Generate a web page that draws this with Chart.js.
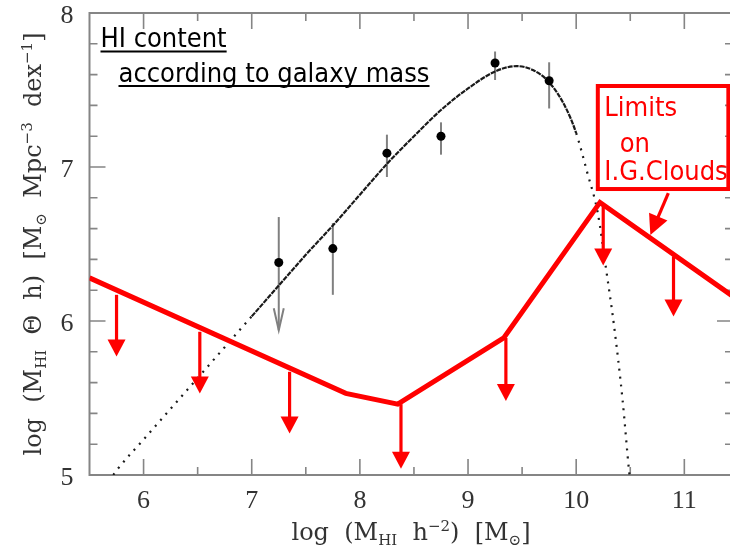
<!DOCTYPE html>
<html><head><meta charset="utf-8">
<script src="https://cdn.jsdelivr.net/npm/chart.js@4"></script>
<style>
html,body{margin:0;padding:0;overflow:hidden;background:#fff;width:730px;height:556px}
#wrap{position:absolute;left:0;top:0;width:733px;height:556px}
</style></head>
<body><div id="wrap"><canvas id="c" width="733" height="556"></canvas></div>
<script>
// ---- data ----
const curveX = [5.72, 5.75, 6.0, 6.25, 6.5, 6.75, 7.0, 7.25, 7.5, 7.75, 8.0, 8.25, 8.5, 8.75, 9.0, 9.25, 9.45, 9.6, 9.75, 9.9, 10.0, 10.1, 10.2, 10.28, 10.35, 10.43, 10.49, 10.52];
const curveY = [5.00, 5.03, 5.23, 5.43, 5.63, 5.83, 6.03, 6.23, 6.43, 6.62, 6.82, 7.02, 7.20, 7.37, 7.51, 7.62, 7.655, 7.63, 7.55, 7.39, 7.22, 6.97, 6.70, 6.32, 5.97, 5.48, 5.02, 4.85];
const pointX = [7.25, 7.75, 8.25, 8.75, 9.25, 9.75];
const pointY = [6.38, 6.47, 7.09, 7.20, 7.675, 7.56];
const errHigh = [6.675, 6.636, 7.21, 7.29, 7.75, 7.68];
const errLow = [5.94, 6.17, 6.935, 7.08, 7.565, 7.38];
const isUpperLimit = [true, false, false, false, false, false];
const limitX = [5.5, 7.87, 8.35, 9.33, 10.22, 11.45];
const limitY = [6.28, 5.53, 5.46, 5.89, 6.77, 6.16];
const arrowX = [5.75, 6.52, 7.35, 8.38, 9.35, 10.25, 10.9];
const arrowTop = [6.17, 5.93, 5.67, 5.46, 5.89, 6.75, 6.42];
const arrowTip = [5.77, 5.53, 5.27, 5.04, 5.48, 6.36, 6.03];
const xTicks = [6, 7, 8, 9, 10, 11];
const yTicks = [5, 6, 7, 8];
const titleLines = ['HI content', 'according to galaxy mass'];
const noteLines = ['Limits', '  on', 'I.G.Clouds'];
// axis title runs: 0 normal, 1 subscript, 2 superscript
const xTitleRuns = [['log  (M',0],['HI',1],['  h',0],['\u22122',2],[')  [M',0],['\u2299',1],[']',0]];
const yTitleRuns = [['log  (M',0],['HI',1],['  \u0398  h)  [M',0],['\u2299',1],['  Mpc',0],['\u22123',2],['  dex',0],['\u22121',2],[']',0]];

const RED = '#ff0000';
const SANS = "'DejaVu Sans Condensed', 'DejaVu Sans', sans-serif";
const SERIF = "'DejaVu Serif', serif";
const TICKFONT = "26px 'Liberation Serif', serif";

function drawRuns(ctx, runs, size) {
  let total = 0;
  const parts = runs.map(([t, k]) => {
    const fs = k === 0 ? size : Math.round(size * 0.62);
    ctx.font = fs + 'px ' + SERIF;
    const w = ctx.measureText(t).width;
    total += w;
    return {t, k, fs, w};
  });
  let cx = -total / 2;
  for (const p of parts) {
    ctx.font = p.fs + 'px ' + SERIF;
    const dy = p.k === 1 ? size * 0.22 : (p.k === 2 ? -size * 0.38 : 0);
    ctx.fillText(p.t, cx, dy);
    cx += p.w;
  }
}

const framePlugin = {
  id: 'frame',
  beforeDatasetsDraw(chart) {
    const {ctx, chartArea: a, scales: {x, y}} = chart;
    ctx.save();
    ctx.strokeStyle = '#858585';
    ctx.lineWidth = 2;
    ctx.strokeRect(a.left, a.top, a.right - a.left, a.bottom - a.top);
    ctx.lineWidth = 1.6;
    ctx.beginPath();
    const t = (px, py, dx, dy) => { ctx.moveTo(px, py); ctx.lineTo(px + dx, py + dy); };
    for (let k = 1; k <= 11; k++) {
      const v = 5.5 + k * 0.5;
      const px = x.getPixelForValue(v);
      const L = (k % 2 === 1) ? 16 : 8;
      t(px, a.bottom, 0, -L); t(px, a.top, 0, L);
    }
    for (let k = 1; k < 15; k++) {
      const v = 5 + k * 0.2;
      const py = y.getPixelForValue(v);
      const L = (k % 5 === 0) ? 16 : 8;
      t(a.left, py, L, 0); t(a.right, py, -L, 0);
    }
    ctx.stroke();
    // tick labels
    ctx.fillStyle = '#333';
    ctx.font = TICKFONT;
    ctx.textBaseline = 'alphabetic';
    ctx.textAlign = 'center';
    xTicks.forEach(v => ctx.fillText(String(v), x.getPixelForValue(v), a.bottom + 33));
    ctx.textAlign = 'right';
    yTicks.forEach(v => ctx.fillText(String(v), a.left - 16, y.getPixelForValue(v) + 10));
    ctx.textAlign = 'left';
    // error bars
    ctx.strokeStyle = '#808080';
    ctx.lineWidth = 2;
    for (let i = 0; i < pointX.length; i++) {
      const px = x.getPixelForValue(pointX[i]);
      const p1 = y.getPixelForValue(errHigh[i]);
      const p2 = y.getPixelForValue(errLow[i]);
      ctx.beginPath(); ctx.moveTo(px, p1); ctx.lineTo(px, p2); ctx.stroke();
      if (isUpperLimit[i]) {
        ctx.beginPath();
        ctx.moveTo(px - 5, p2 - 22); ctx.lineTo(px, p2); ctx.lineTo(px + 5, p2 - 22);
        ctx.stroke();
      }
    }
    ctx.restore();
  },
  afterDatasetsDraw(chart) {
    const {ctx, scales: {x, y}} = chart;
    ctx.save();
    ctx.strokeStyle = RED; ctx.fillStyle = RED;
    for (let i = 0; i < arrowX.length; i++) {
      const px = x.getPixelForValue(arrowX[i]);
      const top = y.getPixelForValue(arrowTop[i]);
      const tip = y.getPixelForValue(arrowTip[i]);
      ctx.lineWidth = 3.2;
      ctx.beginPath(); ctx.moveTo(px, top); ctx.lineTo(px, tip - 15); ctx.stroke();
      ctx.beginPath();
      ctx.moveTo(px - 9, tip - 17); ctx.lineTo(px + 9, tip - 17); ctx.lineTo(px, tip); ctx.closePath();
      ctx.fill();
    }
    ctx.restore();
  },
  afterDraw(chart) {
    const {ctx, chartArea: a, scales: {x, y}} = chart;
    ctx.save();
    ctx.fillStyle = '#000'; ctx.strokeStyle = '#000';
    ctx.font = '27px ' + SANS;
    ctx.textBaseline = 'alphabetic';
    const tl = [[a.left + 11, a.top + 34], [a.left + 29, a.top + 68.5]];
    titleLines.forEach((s, i) => {
      const [tx, ty] = tl[i];
      ctx.fillText(s, tx, ty);
      const w = ctx.measureText(s).width;
      ctx.fillRect(tx, ty + 3.5, w, 2);
    });
    const bx0 = x.getPixelForValue(10.2), bx1 = x.getPixelForValue(11.407);
    const by0 = y.getPixelForValue(7.526), by1 = y.getPixelForValue(6.857);
    ctx.strokeStyle = RED; ctx.fillStyle = RED;
    ctx.lineWidth = 4;
    ctx.strokeRect(bx0, by0, bx1 - bx0, by1 - by0);
    ctx.font = '27px ' + SANS;
    const nb = [7.331, 7.097, 6.916];
    noteLines.forEach((s, i) => ctx.fillText(s, x.getPixelForValue(10.26), y.getPixelForValue(nb[i])));
    const ax0 = x.getPixelForValue(10.852), ay0 = y.getPixelForValue(6.831);
    const ax1 = x.getPixelForValue(10.686), ay1 = y.getPixelForValue(6.558);
    const dx = ax1 - ax0, dy = ay1 - ay0, len = Math.hypot(dx, dy);
    const ux = dx / len, uy = dy / len;
    ctx.lineWidth = 3.2;
    ctx.beginPath(); ctx.moveTo(ax0, ay0); ctx.lineTo(ax1 - ux * 16, ay1 - uy * 16); ctx.stroke();
    ctx.beginPath();
    ctx.moveTo(ax1, ay1);
    ctx.lineTo(ax1 - ux * 20 - uy * 10, ay1 - uy * 20 + ux * 10);
    ctx.lineTo(ax1 - ux * 20 + uy * 10, ay1 - uy * 20 - ux * 10);
    ctx.closePath(); ctx.fill();
    ctx.fillStyle = '#333';
    ctx.save();
    ctx.translate(411, 540);
    drawRuns(ctx, xTitleRuns, 24);
    ctx.restore();
    ctx.save();
    ctx.translate(41, (a.top + a.bottom) / 2);
    ctx.rotate(-Math.PI / 2);
    drawRuns(ctx, yTitleRuns, 24);
    ctx.restore();
    ctx.restore();
  }
};

new Chart(document.getElementById('c'), {
  type: 'scatter',
  data: {
    datasets: [
      {
        label: 'limits',
        data: limitX.map((v, i) => ({x: v, y: limitY[i]})),
        showLine: true, borderColor: RED, borderWidth: 5, pointRadius: 0, tension: 0, order: 0
      },
      {
        label: 'points',
        data: pointX.map((v, i) => ({x: v, y: pointY[i]})),
        showLine: false, pointRadius: 4.5, pointBackgroundColor: '#000', pointBorderColor: '#000', pointBorderWidth: 0, order: 1
      },
      {
        label: 'fit',
        data: curveX.map((v, i) => ({x: v, y: curveY[i]})),
        showLine: true, borderColor: '#1a1a1a', borderWidth: 2.2, pointRadius: 0,
        cubicInterpolationMode: 'monotone', order: 2,
        segment: {
          borderDash: c => (c.p0.parsed.x >= 7 && c.p1.parsed.x <= 10.0) ? [5, 1] : [2, 6]
        }
      }
    ]
  },
  options: {
    responsive: false, animation: false, devicePixelRatio: 1,
    layout: {autoPadding: false, padding: {top: 13, left: 0, right: 0, bottom: 0}},
    plugins: {legend: {display: false}, tooltip: {enabled: false}},
    scales: {
      x: {
        type: 'linear', min: 5.5, max: 11.45,
        grid: {display: false, drawTicks: false}, border: {display: false},
        ticks: {display: false},
        afterFit: s => { s.height = 81; }
      },
      y: {
        type: 'linear', min: 5, max: 8,
        grid: {display: false, drawTicks: false}, border: {display: false},
        ticks: {display: false},
        afterFit: s => { s.width = 89.5; }
      }
    }
  },
  plugins: [framePlugin]
});
</script>
</body></html>
